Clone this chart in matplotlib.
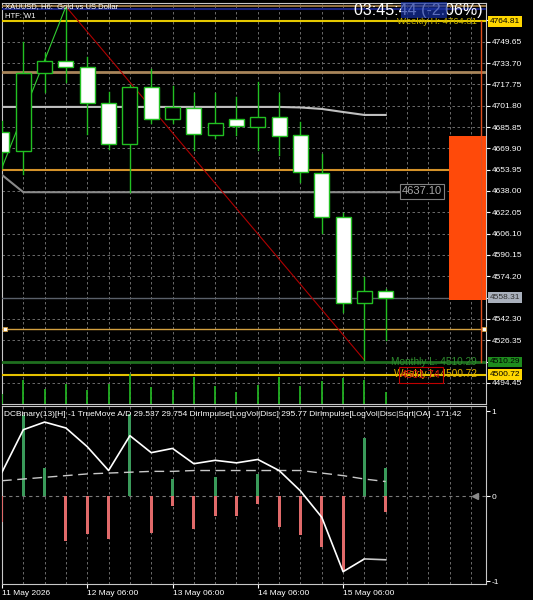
import matplotlib
matplotlib.use('Agg')
import matplotlib.pyplot as plt
import matplotlib.transforms as mtransforms
from matplotlib.patches import Rectangle
import numpy as np

plt.rcParams['font.family'] = ['Liberation Sans', 'DejaVu Sans']

# ---------------- data ----------------
opens  = [4681.9, 4668.0, 4726.3, 4735.3, 4730.6, 4703.6, 4673.0, 4715.6, 4691.7, 4700.4,
          4679.9, 4692.1, 4686.1, 4693.4, 4679.7, 4651.2, 4618.3, 4554.0, 4563.2]
highs  = [4690.0, 4749.5, 4741.0, 4776.0, 4738.0, 4712.0, 4717.0, 4729.0, 4716.6, 4711.0,
          4711.0, 4708.0, 4719.8, 4711.0, 4689.9, 4665.7, 4621.5, 4573.9, 4564.5]
lows   = [4655.5, 4651.0, 4712.0, 4719.6, 4681.0, 4669.4, 4637.5, 4688.7, 4688.7, 4668.7,
          4678.0, 4680.0, 4668.7, 4665.0, 4645.0, 4606.6, 4547.7, 4511.5, 4526.5]
closes = [4667.4, 4726.5, 4735.3, 4730.8, 4703.7, 4673.0, 4715.6, 4692.0, 4700.6, 4680.4,
          4689.1, 4686.6, 4693.6, 4679.4, 4652.0, 4618.3, 4554.4, 4563.2, 4558.31]
volumes = [10, 24, 15, 20, 14, 20, 30, 17, 14, 27, 18, 12, 19, 27, 18, 23, 26, 24, 12]

ma_line  = [4700.9] * 14 + [4700.5, 4699.4, 4697.1, 4694.9, 4694.9]
htf_line = [4650.0] + [4637.1] * 18

hist_up = [0.0, 0.95, 0.33, 0.0, 0.0, 0.0, 0.97, 0.0, 0.20, 0.0,
           0.22, 0.0, 0.26, 0.0, 0.0, 0.0, 0.0, 0.68, 0.33]
hist_dn = [-0.30, 0.0, 0.0, -0.53, -0.45, -0.51, 0.0, -0.43, -0.12, -0.39,
           -0.23, -0.24, -0.09, -0.36, -0.46, -0.60, -0.88, 0.0, -0.19]
ind_line = [0.28, 0.78, 0.87, 0.80, 0.58, 0.30, 0.71, 0.51, 0.56, 0.38,
            0.42, 0.39, 0.43, 0.30, 0.06, -0.25, -0.89, -0.74, -0.75]
ind_dash = [0.18, 0.20, 0.22, 0.24, 0.26, 0.27, 0.28, 0.29, 0.29, 0.30,
            0.30, 0.30, 0.30, 0.30, 0.30, 0.27, 0.24, 0.20, 0.17]

grid_base, grid_step, n_grid = 4494.45, 15.95, 18
hidden_ticks = [4510.40, 4558.25, 4765.60]

date_labels = ['11 May 2026', '12 May 06:00', '13 May 06:00', '14 May 06:00', '15 May 06:00']
date_idx = [0, 4, 8, 12, 16]

weekly_h, weekly_l, monthly_l = 4764.81, 4500.72, 4510.29
level_top_tan, level_top_blue = 4776.4, 4774.2
level_tan, level_orange, level_low_tan = 4727.3, 4653.7, 4534.7
current_price = 4558.31
htf_label = 4637.10
red_box_val = 4501.74
zone_top, zone_bottom = 4679.2, 4556.4
zig_idx, zig_val = [0, 3], [4655.5, 4776.0]
trend_idx, trend_val = [3, 17], [4776.0, 4511.5]

header1 = 'XAUUSD, H6:  Gold vs US Dollar'
header2 = 'HTF: W1'
clock_txt = '03:45:44 (-2.06%)'
ind_title = ('DCBinary(13)[H] -1 TrueMove A/D 29.537 29.754 DirImpulse[LogVol|Disc] 295.77 '
             'DirImpulse[LogVol|Disc|Sqrt|OA] -171.42')

# ---------------- layout ----------------
W, H = 533, 600
fig = plt.figure(figsize=(W / 100, H / 100), dpi=100, facecolor='black')

def rect(l, t, r, b):
    return [l / W, 1 - b / H, (r - l) / W, (b - t) / H]

def fx(x):
    return x / W

def fy(y):
    return 1 - y / H

spacing = 21.36
x0_px = 1.04
xlim = ((2 - x0_px) / spacing, (486 - x0_px) / spacing)
px_per_price = 1.3367
ylim_main = (4638 - (404 - 191) / px_per_price, 4638 + (191 - 3) / px_per_price)

ax = fig.add_axes(rect(2, 3, 486, 404))
ax.set_facecolor('black')
ax.set_xlim(*xlim)
ax.set_ylim(*ylim_main)

idx = np.arange(len(opens))

# volumes (twin axis created first so the price axis can keep its right ticks)
axv = ax.twinx()
axv.set_ylim(0, 401)
axv.set_xlim(*xlim)
axv.vlines(idx, 0, volumes, color='#22b022', lw=1.3)
axv.axis('off')

grid_col = '#7a7a7a'
grid_levels = [grid_base + grid_step * k for k in range(n_grid)]
ax.set_yticks(grid_levels)
labels = []
for v in grid_levels:
    if any(abs(v - h) < 0.01 for h in hidden_ticks):
        labels.append('')
    else:
        labels.append('%.2f' % v)
ax.set_yticklabels(labels)
ax.yaxis.tick_right()
ax.yaxis.set_label_position('right')
ax.tick_params(axis='y', which='both', left=False, labelleft=False, right=True, labelright=True,
               colors='white', labelsize=6, length=3, width=0.8, pad=1)
ax.set_xticks(np.arange(0, 23))
ax.tick_params(axis='x', length=0, labelbottom=False)
ax.grid(True, color=grid_col, lw=0.6, linestyle=(0, (3, 3)))
for s in ax.spines.values():
    s.set_color('#c8c8c8')
    s.set_linewidth(0.8)

# horizontal levels
ax.axhline(level_top_tan, color='#b08850', lw=1.2, zorder=3)
ax.axhline(level_top_blue, color='#1a237e', lw=1.5, zorder=3)
ax.axhline(weekly_h, color='#e6c800', lw=1.5, zorder=3)
ax.axhline(level_tan, color='#a8855a', lw=2, zorder=3)
ax.axhline(level_orange, color='#d4922a', lw=1.5, zorder=3)
ax.axhline(level_low_tan, color='#d4a040', lw=1, zorder=3)
ax.axhline(monthly_l, color='#1f6e1f', lw=2, zorder=3)
ax.axhline(weekly_l, color='#e6c200', lw=1.5, zorder=3)
ax.axhline(current_price, color='#5a606a', lw=1, zorder=3)
ax.plot([xlim[0] + 0.08, xlim[1] - 0.08], [level_low_tan] * 2, 's', ms=3,
        mfc='white', mec='#d4a040', mew=0.6, zorder=6, clip_on=False)

# zone rectangle
zone_x = (449 - x0_px) / spacing
ax.add_patch(Rectangle((zone_x, zone_bottom), xlim[1] - zone_x, zone_top - zone_bottom,
                       fc='#ff4a0a', ec='none', zorder=4))
vline_x = (481 - x0_px) / spacing
ax.plot([vline_x, vline_x], [monthly_l, weekly_h], color='#e05020', lw=1, zorder=5)

# MA and HTF lines
ax.plot(idx, ma_line, color='#c0c0c0', lw=1.5, zorder=4)
htf_x = list(idx) + [(399 - x0_px) / spacing]
ax.plot(htf_x, htf_line + [htf_line[-1]], color='#8a8a8a', lw=1.5, zorder=4)

# zigzag and trend
ax.plot(zig_idx, zig_val, color='#32cd32', lw=0.8, zorder=7)
ax.plot(trend_idx, trend_val, color='#b00000', lw=0.8, zorder=7)

# candles
cedge = '#22c022'
body_w = 0.70
for i in idx:
    o, h, l, c = opens[i], highs[i], lows[i], closes[i]
    ax.plot([i, i], [l, h], color=cedge, lw=1, zorder=8)
    fc = 'black' if c > o else 'white'
    ax.add_patch(Rectangle((i - body_w / 2, min(o, c)), body_w, max(abs(c - o), 0.3),
                           fc=fc, ec=cedge, lw=1, zorder=9))

# in-chart labels
fig.text(fx(477), fy(22), 'Weekly H: %.2f' % weekly_h, color='#c8b400', fontsize=6.8,
         ha='right', va='center')
fig.text(fx(477), fy(362), 'Monthly L: %.2f' % monthly_l, color='#2e8b2e', fontsize=7.2,
         ha='right', va='center')
fig.text(fx(477), fy(374), 'Weekly L: %.2f' % weekly_l, color='#e0b000', fontsize=7.2,
         ha='right', va='center')
fig.text(fx(421), fy(375), '%.2f' % red_box_val, color='#d01010', fontsize=8,
         ha='center', va='center',
         bbox=dict(fc='none', ec='#c00000', lw=0.8, pad=1.8))
fig.text(fx(422), fy(191.5), '%.2f' % htf_label, color='#a8a8a8', fontsize=8,
         ha='center', va='center',
         bbox=dict(fc='black', ec='#808080', lw=0.8, pad=1.5))

# right axis boxes
tr = mtransforms.blended_transform_factory(ax.transAxes, ax.transData)
for val, fc, tc in [(weekly_h, '#ffd700', 'black'), (current_price, '#a9b0bc', '#303030'),
                    (monthly_l, '#1e8c1e', 'black'), (weekly_l, '#ffd700', 'black')]:
    ax.text(1.008, val, '%.2f' % val, transform=tr, fontsize=6, color=tc, ha='left',
            va='center', bbox=dict(fc=fc, ec='none', pad=1.2),
            clip_on=False, zorder=20)

# header texts
fig.text(fx(5), fy(7), header1, color='white', fontsize=5.5, va='center', ha='left')
fig.text(fx(5), fy(17), header2, color='white', fontsize=5.5, va='center', ha='left')
fig.text(fx(354), fy(11), clock_txt, color='white', fontsize=11.5, va='center', ha='left')
fig.patches.append(Rectangle((fx(401), fy(18)), (447 - 401) / W, 16 / H,
                             transform=fig.transFigure, fc='#1530a0', ec='none',
                             alpha=0.7, zorder=5))

# ---------------- indicator panel ----------------
ai = fig.add_axes(rect(2, 406, 486, 584))
ai.set_facecolor('black')
ai.set_xlim(*xlim)
ai.set_ylim(-1.035, 1.059)
for s in ai.spines.values():
    s.set_color('#c8c8c8')
    s.set_linewidth(0.8)
ai.set_xticks(np.arange(0, 23), minor=True)
ai.set_xticks(date_idx)
ai.set_xticklabels(date_labels, ha='left')
ai.tick_params(axis='x', which='major', colors='white', labelsize=6, length=3, width=0.8, pad=1)
ai.tick_params(axis='x', which='minor', length=0)
ai.grid(True, axis='x', which='both', color=grid_col, lw=0.6, linestyle=(0, (3, 3)))
ai.yaxis.tick_right()
ai.set_yticks([1, 0, -1])
ai.set_yticklabels(['1', '0', '-1'])
ai.tick_params(axis='y', colors='white', labelsize=6, length=3, width=0.8, pad=1)
ai.axhline(0, color=grid_col, lw=0.8, linestyle=(0, (3, 3)))
ai.plot([(475 - x0_px) / spacing], [0], marker='<', color='#8a8a8a', ms=4, zorder=6)

bw = 3 / spacing
ai.bar(idx, hist_up, width=bw, color='#3a9a5a', zorder=3)
ai.bar(idx, hist_dn, width=bw, color='#e06a6a', zorder=3)
ai.plot(idx[:-1], ind_line[:-1], color='white', lw=1.2, zorder=5)
ai.plot(idx[-2:], ind_line[-2:], color='#c8c8c8', lw=1.2, zorder=5)
ai.plot(idx, ind_dash, color='#c8c8c8', lw=1.0, linestyle=(0, (7, 4)), zorder=4)

fig.text(fx(4), fy(414), ind_title, color='white', fontsize=6.0, va='center', ha='left')

fig.savefig('out.png', dpi=100, facecolor='black')
